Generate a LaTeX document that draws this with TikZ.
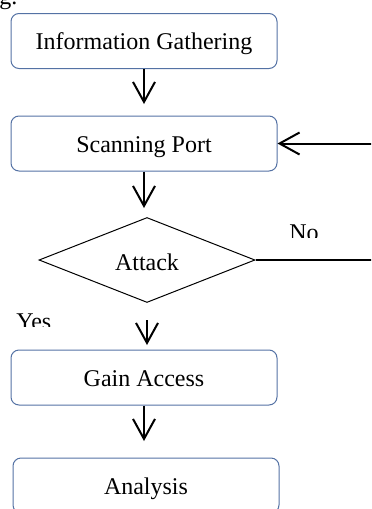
\documentclass[tikz,border=0pt]{standalone}
\usepackage{fontspec}
\setmainfont{Liberation Serif}
\usetikzlibrary{shapes.geometric,arrows.meta}
\definecolor{boxline}{RGB}{84,114,164}
\tikzset{
  stagebox/.style={draw=boxline,line width=0.5pt,rounded corners=4pt,
    minimum width=133pt,minimum height=27.5pt,inner sep=0pt,
    text height=8.5pt,text depth=0pt,font=\fontsize{12}{14}\selectfont},
  decision/.style={diamond,draw=black,line width=0.5pt,minimum width=108pt,
    minimum height=42.5pt,inner sep=0pt,text height=10.5pt,text depth=0pt,
    font=\fontsize{12}{14}\selectfont},
  flowarrow/.style={line width=1pt,-{Straight Barb[length=10pt,width=11pt,line width=1pt]}},
  flowline/.style={line width=1pt},
  answer/.style={inner sep=0pt,anchor=base west,font=\fontsize{12}{14}\selectfont}
}
\begin{document}
\begin{tikzpicture}[x=0.5pt,y=-0.5pt]
\clip (0,0) rectangle (371,509);
\node[answer] (caption) at (-1,4) {g.};
\node[stagebox] (info) at (144,41) {Information Gathering};
\node[stagebox] (scan) at (144,143.5) {Scanning Port};
\node[decision] (attack) at (147,260) {Attack};
\node[stagebox] (gain) at (144,377.5) {Gain Access};
\node[stagebox] (analysis) at (146,485.5) {Analysis};
\coordinate (infoend) at (144,104);
\coordinate (scanend) at (144,208);
\coordinate (yesstart) at (147,320);
\coordinate (yesend) at (147,345);
\coordinate (gainend) at (144,441);
\coordinate (loopin) at (372,143.5);
\coordinate (loopout) at (372,260);
\draw [flowarrow] (info.south) -- (infoend);
\draw [flowarrow] (scan.south) -- (scanend);
\draw [flowarrow] (yesstart) -- (yesend);
\draw [flowarrow] (gain.south) -- (gainend);
\draw [flowarrow] (loopin) -- (scan.east);
\draw [flowline] (attack.east) -- (loopout);
% labels cut off at the bottom as in the source
\begin{scope}
\clip (280,215) rectangle (335,237);
\node[answer] (no) at (289,240) {No};
\end{scope}
\begin{scope}
\clip (10,305) rectangle (60,326);
\node[answer] (yes) at (16,329) {Yes};
\end{scope}
\end{tikzpicture}
\end{document}
